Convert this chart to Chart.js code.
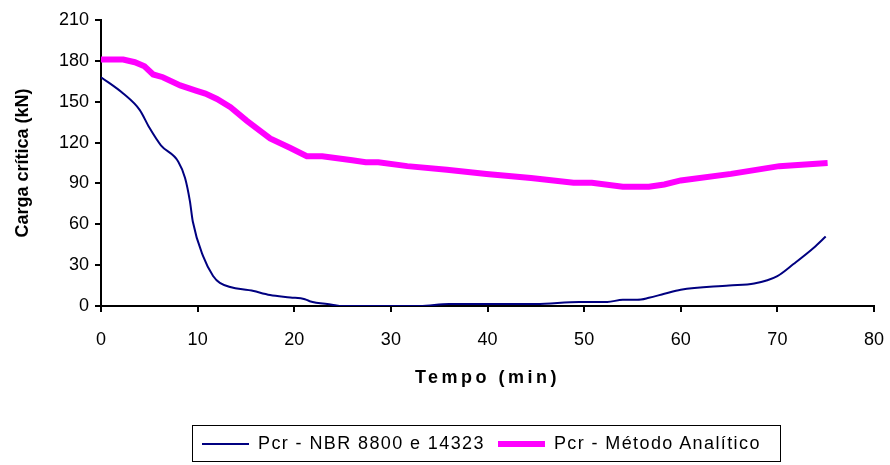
<!DOCTYPE html>
<html>
<head>
<meta charset="utf-8">
<script src="https://cdn.jsdelivr.net/npm/chart.js@4.4.1/dist/chart.umd.min.js"></script>
<style>
  body { margin: 0; background: #fff; }
  #wrap { position: relative; width: 890px; height: 465px; }
  #legend {
    position: absolute; left: 192px; top: 425px; width: 587px; height: 35px;
    border: 1px solid #000; box-sizing: content-box;
    font-family: "Liberation Sans", Arial, sans-serif; font-size: 18px; color: #000;
    letter-spacing: 1.4px;
    display: flex; align-items: center;
  }
  #legend .item { display: flex; align-items: center; margin-left: 9px; margin-right: 4px; flex-shrink: 0; }
  #legend .swatch { width: 47px; margin-right: 9px; flex-shrink: 0; }
</style>
</head>
<body>
<div id="wrap">
  <canvas id="chart" width="890" height="465"></canvas>
  <div id="legend"></div>
</div>
<script>
// Pcr - NBR 8800 e 14323 (tempo em min, carga em kN)
var tempoNBR = [0, 2.3, 4, 5, 6.2, 8, 8.7, 9.2, 9.5, 10.6, 11.6, 12.3, 15.8, 17.5, 19.6, 21.1, 21.6, 23.9, 25, 33, 36, 45, 49.5, 52.4, 54, 55.5, 56.7, 58.3, 60, 65, 67.6, 70, 71.7, 73.8, 75];
var cargaNBR = [168, 156, 144, 131, 118, 106, 94, 77, 62, 36, 22, 17, 11, 8, 6.3, 5, 3.5, 1, 0, 0, 1.5, 1.5, 3, 3, 4.5, 4.5, 6, 9, 12, 15, 16.5, 22, 31, 43, 51];

// Pcr - Método Analítico
var tempoAnalitico = [0, 2.3, 3.5, 4.5, 5.4, 6.4, 8.2, 9.9, 10.8, 12, 13.4, 15.1, 17.5, 19.6, 21.3, 22.9, 26, 27.4, 28.7, 31.7, 35.8, 39.9, 44.5, 48.9, 50.8, 54, 56.7, 58.3, 60, 65.2, 70.2, 75.2];
var cargaAnalitico = [181, 181, 179, 176, 170, 168, 162, 158, 156, 152, 146, 136, 123, 116, 110, 110, 107, 105.6, 105.6, 102.7, 100, 97, 94, 90.5, 90.5, 87.6, 87.6, 89.2, 92.2, 97, 102.7, 105];

var xTicks = [0, 10, 20, 30, 40, 50, 60, 70, 80];
var yTicks = [0, 30, 60, 90, 120, 150, 180, 210];

function pares(xs, ys) {
  return xs.map(function (x, i) { return { x: x, y: ys[i] }; });
}

var fonte = '"Liberation Sans", Arial, sans-serif';

var myChart = new Chart(document.getElementById('chart'), {
  type: 'line',
  data: {
    datasets: [
      {
        label: 'Pcr - NBR 8800 e 14323',
        data: pares(tempoNBR, cargaNBR),
        borderColor: '#000080',
        borderWidth: 2,
        pointRadius: 0,
        cubicInterpolationMode: 'monotone',
        fill: false
      },
      {
        label: 'Pcr - Método Analítico',
        data: pares(tempoAnalitico, cargaAnalitico),
        borderColor: '#FF00FF',
        borderWidth: 6,
        pointRadius: 0,
        tension: 0,
        fill: false
      }
    ]
  },
  options: {
    responsive: false,
    animation: false,
    devicePixelRatio: 1,
    layout: { padding: { left: 12, right: 16, top: 20, bottom: 76 } },
    plugins: { legend: { display: false }, tooltip: { enabled: false } },
    scales: {
      x: {
        type: 'linear', min: 0, max: 80,
        afterBuildTicks: function (s) { s.ticks = xTicks.map(function (v) { return { value: v }; }); },
        afterFit: function (s) { s.height = 83; s.paddingLeft = 0; s.paddingRight = 0; },
        grid: { drawOnChartArea: false, drawTicks: true, tickLength: 6, color: '#000', lineWidth: 2 },
        border: { color: '#000', width: 2 },
        ticks: { color: '#000', padding: 17, maxRotation: 0, font: { family: fonte, size: 18 } },
        title: { display: true, text: 'Tempo (min)', color: '#000', padding: 0, font: { family: fonte, size: 18, weight: 'bold' } }
      },
      y: {
        type: 'linear', min: 0, max: 210,
        afterBuildTicks: function (s) { s.ticks = yTicks.map(function (v) { return { value: v }; }); },
        afterFit: function (s) { s.width = 89; },
        grid: { drawOnChartArea: false, drawTicks: true, tickLength: 6, color: '#000', lineWidth: 2 },
        border: { color: '#000', width: 2 },
        ticks: { color: '#000', padding: 6, font: { family: fonte, size: 18 } },
        title: { display: true, text: 'Carga crítica (kN)', color: '#000', padding: 0, font: { family: fonte, size: 18, weight: 'bold' } }
      }
    }
  }
});

// título do eixo x espaçado, como no original
var xScale = myChart.scales.x;
var drawTitleOrig = xScale.drawTitle;
xScale.drawTitle = function () {
  var ctx = this.ctx;
  var prev = ctx.letterSpacing;
  ctx.letterSpacing = '3.5px';
  drawTitleOrig.apply(this, arguments);
  ctx.letterSpacing = prev || '0px';
};
myChart.draw();

// legenda com caixa, montada a partir dos datasets
var legend = document.getElementById('legend');
myChart.data.datasets.forEach(function (ds) {
  var item = document.createElement('div');
  item.className = 'item';
  var sw = document.createElement('div');
  sw.className = 'swatch';
  sw.style.height = ds.borderWidth + 'px';
  sw.style.background = ds.borderColor;
  var txt = document.createElement('span');
  txt.textContent = ds.label;
  item.appendChild(sw);
  item.appendChild(txt);
  legend.appendChild(item);
});
</script>
</body>
</html>
